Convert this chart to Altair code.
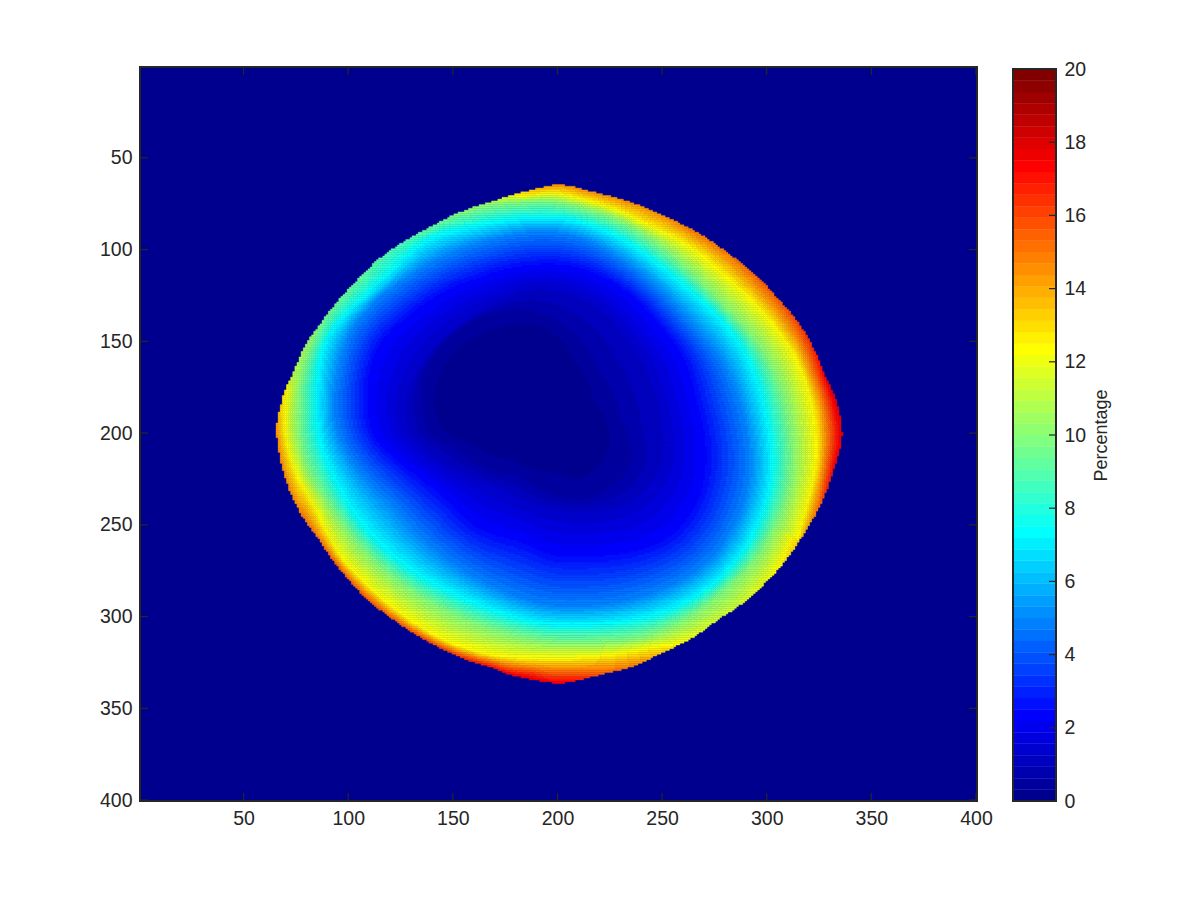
import numpy as np
import pandas as pd
import altair as alt

alt.data_transformers.disable_max_rows()

# Outline of the non-zero region (column, row, percentage at the rim)
edge_x = [65.5,67,70,74,81,86,96,105,116,128,139,153,169,183,192,196,205,214,225,234,244,253,264,274,285,295,304.5,314,322,328,333,336,336,336,333,330,324,317,307,298,287,276,264,253,244,234,222,214,209,205,196,187,178,169,153,139,126,115,105,96,85,79,73,69,67]
edge_y = [198,189,176,167,149,142,127,116,104,95,88,80,74,69,66.5,65,65,68,71,74,78,83,89,96,105,114,126,138,153,169.5,181.5,196,200,205,216,227,243,256,272.5,283,294,302,312,318,323,328,331,333.5,335,336,336,334,332,327.5,322,314,305,296,286,274,256,247,234,221,210]
edge_v = [14.5,13.5,12.5,11,10.5,10,9.5,9.5,9,9,9.5,10,11,13,14,14.5,14.5,14.5,14.5,14.5,14.5,14.5,15,15,15,15.5,15.5,16,16.5,17.5,18,18,18,18,17.5,17,15,13.5,12.5,12,11.5,11.5,12,13,14,15,15.5,16.5,17,17.5,17.5,18,17.5,17,16.5,16,15.5,15.5,15.5,15.5,15,15,14.5,14.5,14.5]

# Iso-percentage contours (column, row)
c12_x = [70,69,70,71,72,75,91,112,134,150.5,167,185,197.5,212,228,244,264,282,300,314,322,324,324,319,315.5,311,301,290,278,266,250,237.5,223,196,169,147,128,111,97,84,74]
c12_y = [203,194,183,176,165,151.5,121.5,100,83,77,71,71.5,68.5,72.5,78,87,98.5,116,136,158,183,201.5,218,241.5,256,274,286,297,308,315,316,319,321.5,323,321.5,314,301,285,269,240,221]
c10_x = [76,78,84,92,113,136,153,169,185,199,212,225,244,263,279,295,306,312,312,306,295,281,264,244,217,196,169,142,124,108.5,92,81,76.5]
c10_y = [185,167,149,124,101,84.5,79.5,76,74,73.5,78,82,94,112,131,150,172,201.5,227,247,269,285,300,311,314,314,307,294,281,265,240,221,203]
c75_x = [85,85,88.5,107,121,137,159,185,199,212,231,249,266,282,292,298,302,303,298,287,272,257,231,212,196,178,153,134,111,100,92,85]
c75_y = [185,167,149,127,112,94,88,83,82,85,94,109,125,143,160,180,203,227,245,269,285,296,303,305,305,300,289,278,256,240,221,203]
c5_x = [93,96,99,111,128,147,169,197,212,229,249,264,277,285,291,292,285,274,258,236,212,196,169,147,123,106,96]
c5_y = [185,167,149,131,116,103.5,95,90.5,94,105,123,142,158,178,203,227,248.5,269,281,290.5,294,294,283,268,240,221,203]
c25_x = [109,110,116,128,143,162.5,185,199,212,233,249,261.5,266,270.5,271,266,252,234,212,196,185,160,151,138,123,112]
c25_y = [185,167,149,138,125,116,109,108,110.5,123,142,161,183,201.5,220,241,259,265,267,267,259,251,240,227,214,203]
c12b_x = [127,133,140,153,172,188,212,233,245,250,250,238,217,196,177,162.5,143,129]
c12b_y = [185,167,155,142,129,122,127,149,174,202,218,236,243,241,232,225,214,199.5]
c06_x = [136,135,147,166,188,209,220,229.5,236,231,214,182,153,138]
c06_y = [185,172,150,136,133.5,147,167,191,212.5,225,236,223,209,199.5]
c03_x = [141,144,153,169,188,197.5,207,216.5,225,221,212,197.5,178,158,145]
c03_y = [185,167,154,144,141,145,160,181.5,205,216,224,221,214,205,198]

level_values = [0.3, 0.625, 1.25, 2.5, 5, 7.5, 10, 12.5]
level_xs = [c03_x, c06_x, c12b_x, c25_x, c5_x, c75_x, c10_x, c12_x]
level_ys = [c03_y, c06_y, c12b_y, c25_y, c5_y, c75_y, c10_y, c12_y]
level_smooth = [16, 20, 28, 44, 44, 44, 36, 28]
centre_value = 0.1
CX, CY = 190.0, 182.0

tick_vals = [50, 100, 150, 200, 250, 300, 350, 400]
cb_ticks = [0, 2, 4, 6, 8, 10, 12, 14, 16, 18, 20]

X = (np.arange(1, 401))
xx, yy = np.meshgrid(X, X)
dx, dy = xx - CX, (yy - CY) * 0.875
rad = np.hypot(dx, dy)
ang = np.arctan2(dy, dx)
grid_t = np.linspace(-np.pi, np.pi, 1440, endpoint=False)


def smooth(a, half):
    if half == 0:
        return a
    k = np.hanning(2 * half + 3)[1:-1]
    k = k / k.sum()
    return np.convolve(np.r_[a[-half:], a, a[:half]], k, mode="valid")


def polar(xs, ys, half=0):
    xs, ys = np.asarray(xs, float), np.asarray(ys, float)
    t = np.arctan2((ys - CY) * 0.875, xs - CX)
    r = np.hypot(xs - CX, (ys - CY) * 0.875)
    o = np.argsort(t)
    rr = np.interp(grid_t, t[o], r[o], period=2 * np.pi)
    return np.interp(ang, grid_t, smooth(rr, half), period=2 * np.pi)


r_edge = polar(edge_x, edge_y, half=10)
t_e = np.arctan2((np.array(edge_y) - CY) * 0.875, np.array(edge_x) - CX)
o_e = np.argsort(t_e)
v_grid = np.interp(grid_t, t_e[o_e], np.array(edge_v, float)[o_e], period=2 * np.pi)
v_edge = np.interp(ang, grid_t, smooth(v_grid, 12), period=2 * np.pi)
r_levels = [polar(a, b, half=h) for a, b, h in zip(level_xs, level_ys, level_smooth)]

field = np.zeros_like(rad, dtype=float)
mask = rad <= r_edge
for j, i in zip(*np.nonzero(mask)):
    rs = [0.0]
    vs = [centre_value]
    for lv, rl in zip(level_values, r_levels):
        if rl[j, i] < r_edge[j, i] - 0.5 and lv < v_edge[j, i] and rl[j, i] > rs[-1]:
            rs.append(rl[j, i])
            vs.append(lv)
    rs.append(r_edge[j, i])
    vs.append(max(v_edge[j, i], vs[-1]))
    field[j, i] = np.interp(rad[j, i], rs, vs)

idx = np.clip(np.floor(field / 20 * 64).astype(int), 0, 63)
runs = []
for j in range(400):
    row = idx[j]
    if not mask[j].any():
        continue
    start = 0
    for i in range(1, 401):
        if i == 400 or row[i] != row[start]:
            if row[start] > 0:
                runs.append((start + 0.5, i + 0.5, j + 0.5, j + 1.5, (row[start] + 0.5) * 20 / 64))
            start = i
heat_df = pd.DataFrame(runs, columns=["x0", "x1", "y0", "y1", "v"])

f = (np.arange(1, 65)) / 64
jet = []
for t in f:
    r = np.clip(min(4 * t - 1.5, -4 * t + 4.5), 0, 1)
    g = np.clip(min(4 * t - 0.5, -4 * t + 3.5), 0, 1)
    b = np.clip(min(4 * t + 0.5, -4 * t + 2.5), 0, 1)
    jet.append("#%02x%02x%02x" % (round(r * 255), round(g * 255), round(b * 255)))

DARK = "#262626"
W, H = 837, 734
CBW = 43
FONT = "Liberation Sans"
col_scale = alt.Scale(type="quantize", domain=[0, 20], range=jet)
xs = alt.Scale(domain=[0.5, 400.5], nice=False, zero=False)
ys = alt.Scale(domain=[400.5, 0.5], nice=False, zero=False, range=[H, 0])
ax = alt.Axis(values=tick_vals, title=None, grid=False, ticks=False, domain=False,
              labelFont=FONT, labelFontSize=19.5, labelColor=DARK, labelPadding=8)
cax = alt.Axis(orient="right", values=cb_ticks, format="d", title="Percentage", grid=False,
               ticks=False, domain=False, labelFont=FONT, labelFontSize=19.5, labelColor=DARK,
               labelPadding=8, titleFont=FONT, titleFontSize=18, titleColor=DARK, titleAngle=270,
               titleFontWeight="normal", titlePadding=25)

anchor = pd.DataFrame({"a": [0]})
bg = alt.Chart(anchor).mark_rect(color=jet[0]).encode(
    x=alt.value(0), x2=alt.value(W), y=alt.value(0), y2=alt.value(H))
heat = alt.Chart(heat_df).mark_rect(strokeWidth=0.4).encode(
    x=alt.X("x0:Q", scale=xs, axis=ax),
    x2="x1:Q",
    y=alt.Y("y0:Q", scale=ys, axis=ax),
    y2="y1:Q",
    color=alt.Color("v:Q", scale=col_scale, legend=None),
    stroke=alt.Stroke("v:Q", scale=col_scale, legend=None),
)
tk = pd.DataFrame({"t": tick_vals})
def rules(df, field, ch, scale, axis, a, b):
    if ch == "x":
        return alt.Chart(df).mark_rule(color=DARK, strokeWidth=1.2).encode(
            x=alt.X(f"{field}:Q", scale=scale, axis=axis), y=alt.value(a), y2=alt.value(b))
    return alt.Chart(df).mark_rule(color=DARK, strokeWidth=1.2).encode(
        y=alt.Y(f"{field}:Q", scale=scale, axis=axis), x=alt.value(a), x2=alt.value(b))

frame = alt.Chart(anchor).mark_rect(filled=False, stroke=DARK, strokeWidth=2).encode(
    x=alt.value(0), x2=alt.value(W), y=alt.value(0), y2=alt.value(H))
main = alt.layer(
    bg, heat,
    rules(tk, "t", "x", xs, ax, 0, 8), rules(tk, "t", "x", xs, ax, H - 8, H),
    rules(tk, "t", "y", ys, ax, 0, 8), rules(tk, "t", "y", ys, ax, W - 8, W),
    frame,
).properties(width=W, height=H)

cb_df = pd.DataFrame({"lo": [i * 20 / 64 for i in range(64)], "hi": [(i + 1) * 20 / 64 for i in range(64)]})
cb_df["v"] = (cb_df.lo + cb_df.hi) / 2
cys = alt.Scale(domain=[0, 20], nice=False, zero=False, range=[H, 2])
cb = alt.Chart(cb_df).mark_rect(strokeWidth=0.4).encode(
    x=alt.value(0), x2=alt.value(CBW),
    y=alt.Y("lo:Q", scale=cys, axis=cax),
    y2="hi:Q",
    color=alt.Color("v:Q", scale=col_scale, legend=None),
    stroke=alt.Stroke("v:Q", scale=col_scale, legend=None),
)
cb_frame = alt.Chart(anchor).mark_rect(filled=False, stroke=DARK, strokeWidth=2).encode(
    x=alt.value(0), x2=alt.value(CBW), y=alt.value(2), y2=alt.value(H))
cb_tk = rules(pd.DataFrame({"t": cb_ticks}), "t", "y", cys, cax, CBW - 7, CBW)
colorbar = alt.layer(cb, cb_tk, cb_frame).properties(width=CBW, height=H)

chart = alt.hconcat(main, colorbar, spacing=19).resolve_scale(color="independent").properties(
    padding={"left": 91, "top": 51, "right": 5, "bottom": 5}, background="white"
).configure_view(stroke=None)

chart.save("out.html", embed_options={"renderer": "svg", "actions": False})
